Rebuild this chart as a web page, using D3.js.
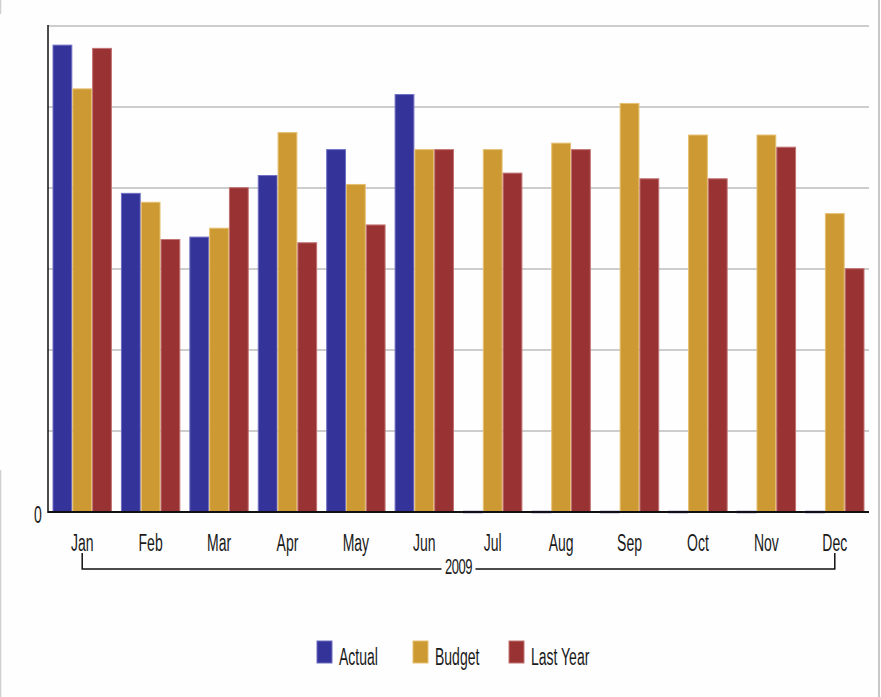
<!DOCTYPE html>
<html>
<head>
<meta charset="utf-8">
<script src="https://cdn.jsdelivr.net/npm/d3@7"></script>
<style>
  html, body { margin: 0; padding: 0; background: #fefefe; }
  svg { display: block; }
  text { font-family: "Liberation Sans", Arial, sans-serif; fill: #1a1a1a; }
</style>
</head>
<body>
<script>
// Monthly figures for 2009
const months = ["Jan", "Feb", "Mar", "Apr", "May", "Jun", "Jul", "Aug", "Sep", "Oct", "Nov", "Dec"];
const seriesNames = ["Actual", "Budget", "Last Year"];
const actual   = [57.7, 39.4, 34.0, 41.6, 44.8, 51.6, 0, 0, 0, 0, 0, 0];
const budget   = [52.3, 38.3, 35.1, 46.9, 40.5, 44.8, 44.8, 45.6, 50.5, 46.6, 46.6, 36.9];
const lastYear = [57.3, 33.7, 40.1, 33.3, 35.5, 44.8, 41.9, 44.8, 41.2, 41.2, 45.1, 30.1];
const yTicks = [0, 10, 20, 30, 40, 50, 60];
const yTickLabels = ["0"];
const yearLabel = "2009";
const colors = ["#333399", "#cc9933", "#993333"];
const edgeColors = ["#6f6fc4", "#e6c072", "#c27272"];

const W = 881, H = 697;
const plot = { left: 48, right: 869, top: 26, bottom: 512 };
const stretch = 1.75; // tall, narrow lettering

const svg = d3.select("body").append("svg").attr("width", W).attr("height", H);

// outer frame pieces
svg.append("line").attr("x1", 879).attr("x2", 879).attr("y1", 0).attr("y2", H)
  .attr("stroke", "#c8c8c8").attr("stroke-width", 2);
svg.append("line").attr("x1", 0.5).attr("x2", 0.5).attr("y1", 0).attr("y2", 14)
  .attr("stroke", "#d0d0d0").attr("stroke-width", 1.5);
svg.append("line").attr("x1", 0.5).attr("x2", 0.5).attr("y1", 470).attr("y2", H)
  .attr("stroke", "#d0d0d0").attr("stroke-width", 1.5);

const x0 = d3.scaleBand().domain(months).range([plot.left, plot.right])
  .paddingInner(0.132).paddingOuter(0.066);
const x1 = d3.scaleBand().domain(seriesNames).range([0, x0.bandwidth()]);
const y = d3.scaleLinear().domain([0, 60]).range([plot.bottom, plot.top]);

// gridlines
svg.append("g").selectAll("line").data(yTicks.filter(d => d > 0)).join("line")
  .attr("x1", plot.left).attr("x2", plot.right)
  .attr("y1", d => y(d)).attr("y2", d => y(d))
  .attr("stroke", "#cdcdcd").attr("stroke-width", 2);

// bars
const series = [actual, budget, lastYear];
const rows = months.map((m, i) => ({ month: m, values: seriesNames.map((s, k) => ({ key: s, k, v: series[k][i] })) }));

const groups = svg.append("g").selectAll("g").data(rows).join("g")
  .attr("transform", d => `translate(${x0(d.month)},0)`);

groups.selectAll("rect.bar").data(d => d.values.filter(v => v.v > 0)).join("rect")
  .attr("class", "bar")
  .attr("x", d => x1(d.key) + 0.5)
  .attr("width", x1.bandwidth() - 1)
  .attr("y", d => y(d.v) + 0.5)
  .attr("height", d => y(0) - y(d.v) - 0.5)
  .attr("fill", d => colors[d.k])
  .attr("stroke", d => edgeColors[d.k])
  .attr("stroke-width", 1);

// x axis baseline
svg.append("line").attr("x1", plot.left).attr("x2", plot.right)
  .attr("y1", y(0)).attr("y2", y(0))
  .attr("stroke", "#111").attr("stroke-width", 2);

// zero-valued bars show as a thin strip on the baseline
groups.selectAll("rect.zero").data(d => d.values.filter(v => v.v === 0)).join("rect")
  .attr("class", "zero")
  .attr("x", d => x1(d.key))
  .attr("width", x1.bandwidth())
  .attr("y", y(0) - 1.25)
  .attr("height", 2.5)
  .attr("fill", "#5c5cc0");

// y axis line
svg.append("line").attr("x1", plot.left).attr("x2", plot.left)
  .attr("y1", plot.top - 1).attr("y2", y(0) + 1)
  .attr("stroke", "#111").attr("stroke-width", 1.5);

// y tick labels
svg.append("g").selectAll("text").data(yTickLabels).join("text")
  .attr("transform", (d, i) => `translate(${plot.left - 10},${y(yTicks[i]) + 2}) scale(1,${stretch})`)
  .attr("text-anchor", "middle").attr("dominant-baseline", "central")
  .style("font-size", "14px").text(d => d);

// month labels
const labelY = 542;
svg.append("g").selectAll("text").data(months).join("text")
  .attr("transform", d => `translate(${x0(d) + x0.bandwidth() / 2},${labelY}) scale(1,${stretch})`)
  .attr("text-anchor", "middle").attr("dominant-baseline", "central")
  .style("font-size", "14px").text(d => d);

// year bracket spanning the months
const bx1 = x0(months[0]) + x0.bandwidth() / 2;
const bx2 = x0(months[months.length - 1]) + x0.bandwidth() / 2;
const bTop = 553, bY = 569;
const midX = (bx1 + bx2) / 2, gap = 17;
svg.append("path")
  .attr("d", `M${bx1},${bTop}V${bY}H${midX - gap}M${midX + gap},${bY}H${bx2}V${bTop}`)
  .attr("fill", "none").attr("stroke", "#111").attr("stroke-width", 1.5);
svg.append("text")
  .attr("transform", `translate(${midX},${bY - 3}) scale(1,${stretch})`)
  .attr("text-anchor", "middle").attr("dominant-baseline", "central")
  .style("font-size", "13px").style("letter-spacing", "-0.5px").text(yearLabel);

// legend
const legend = svg.append("g").selectAll("g").data(seriesNames).join("g")
  .attr("transform", (d, i) => `translate(${317 + i * 96},0)`);
legend.append("rect").attr("x", 0).attr("y", 641).attr("width", 15).attr("height", 22)
  .attr("fill", (d, i) => colors[i]).attr("stroke", (d, i) => edgeColors[i]).attr("stroke-width", 1);
legend.append("text")
  .attr("transform", `translate(22,656) scale(1,${stretch})`)
  .attr("dominant-baseline", "central")
  .style("font-size", "14px").text(d => d);
</script>
</body>
</html>
